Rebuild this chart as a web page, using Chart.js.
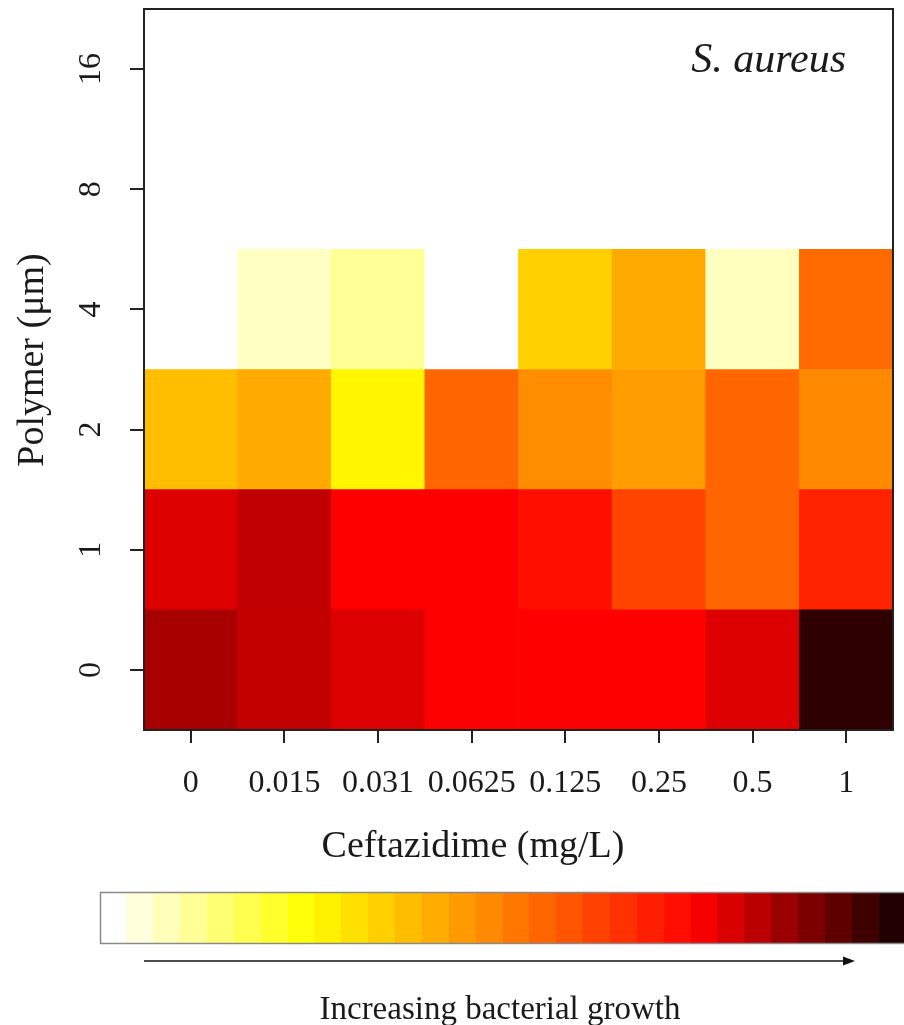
<!DOCTYPE html>
<html>
<head>
<meta charset="utf-8">
<script src="https://cdn.jsdelivr.net/npm/chart.js@4.4.1/dist/chart.umd.min.js"></script>
<style>
  html, body { margin: 0; padding: 0; background: #ffffff; }
  canvas { display: block; }
</style>
</head>
<body>
<canvas id="c" width="904" height="1025"></canvas>
<script>
// ---- data ----
const concentrations = ['0', '0.015', '0.031', '0.0625', '0.125', '0.25', '0.5', '1'];
const polymerLevels = ['0', '1', '2', '4', '8', '16'];
// growth index (0 = no growth, 100 = maximum growth)
const growthP0  = [84.8, 81.8, 78.9, 75.0, 75.0, 75.0, 78.9, 98.4];
const growthP1  = [78.9, 82.1, 75.0, 75.0, 72.0, 61.7, 55.0, 68.3];
const growthP2  = [37.7, 41.7, 26.8, 55.0, 47.5, 44.4, 55.0, 48.3];
const growthP4  = [0.0, 5.8, 10.3, 0.0, 34.2, 41.7, 6.4, 54.2];
const growthP8  = [0, 0, 0, 0, 0, 0, 0, 0];
const growthP16 = [0, 0, 0, 0, 0, 0, 0, 0];
const growthRows = [growthP0, growthP1, growthP2, growthP4, growthP8, growthP16];
const colorbarSteps = 30;

// ---- colour scale (white -> yellow -> orange -> red -> near black) ----
const heatStops = [
  [0.00, [255, 255, 255]],
  [0.25, [255, 255, 0]],
  [0.50, [255, 128, 0]],
  [0.75, [255, 0, 0]],
  [1.00, [32, 0, 0]]
];
function heat(t) {
  t = Math.max(0, Math.min(1, t));
  for (let i = 1; i < heatStops.length; i++) {
    const [t1, c1] = heatStops[i];
    const [t0, c0] = heatStops[i - 1];
    if (t <= t1) {
      const f = (t - t0) / (t1 - t0);
      const c = c0.map((v, k) => Math.round(v + (c1[k] - v) * f));
      return `rgb(${c[0]},${c[1]},${c[2]})`;
    }
  }
  return 'rgb(32,0,0)';
}

const FONT = '"Liberation Serif", "Times New Roman", Times, serif';
const INK = '#1a1a1a';

const datasets = growthRows.map((row, r) => ({
  label: polymerLevels[r],
  data: row.map(() => [r, r + 1]),
  backgroundColor: row.map(v => heat(v / 100)),
  borderWidth: 0,
  barPercentage: 1.0,
  categoryPercentage: 1.0,
  grouped: false
}));

const decorPlugin = {
  id: 'decor',
  afterDraw(chart) {
    const ctx = chart.ctx;
    const a = chart.chartArea;
    const ys = chart.scales.y;
    ctx.save();
    // frame
    ctx.strokeStyle = '#222';
    ctx.lineWidth = 2;
    ctx.strokeRect(a.left, a.top, a.right - a.left, a.bottom - a.top);

    // rotated y tick labels
    ctx.fillStyle = INK;
    ctx.font = `32px ${FONT}`;
    ctx.textAlign = 'center';
    ctx.textBaseline = 'alphabetic';
    polymerLevels.forEach((lab, i) => {
      const y = ys.getPixelForValue(i + 0.5);
      ctx.save();
      ctx.translate(100, y);
      ctx.rotate(-Math.PI / 2);
      ctx.fillText(lab, 0, 0);
      ctx.restore();
    });

    // axis titles
    ctx.font = `38px ${FONT}`;
    ctx.save();
    ctx.translate(43, 360);
    ctx.rotate(-Math.PI / 2);
    ctx.fillText('Polymer (μm)', 0, 0);
    ctx.restore();
    ctx.fillText('Ceftazidime (mg/L)', 473, 857);

    // species label
    ctx.font = `italic 42px ${FONT}`;
    ctx.textAlign = 'right';
    ctx.fillText('S. aureus', 846, 72);

    // colour bar
    const bx = 100, by = 892, bw = 806, bh = 51;
    const step = bw / colorbarSteps;
    for (let k = 0; k < colorbarSteps; k++) {
      ctx.fillStyle = heat(k / (colorbarSteps - 1));
      ctx.fillRect(Math.floor(bx + k * step), by, Math.ceil(step) + 1, bh);
    }
    ctx.strokeStyle = '#8a8a8a';
    ctx.lineWidth = 1.5;
    ctx.strokeRect(bx + 0.5, by + 0.5, bw + 10, bh);

    // arrow
    ctx.strokeStyle = '#111';
    ctx.fillStyle = '#111';
    ctx.lineWidth = 1.5;
    ctx.beginPath();
    ctx.moveTo(144, 961);
    ctx.lineTo(846, 961);
    ctx.stroke();
    ctx.beginPath();
    ctx.moveTo(855, 961);
    ctx.lineTo(843, 956.5);
    ctx.lineTo(843, 965.5);
    ctx.closePath();
    ctx.fill();

    // caption
    ctx.fillStyle = INK;
    ctx.font = `33px ${FONT}`;
    ctx.textAlign = 'center';
    ctx.fillText('Increasing bacterial growth', 500, 1019);
    ctx.restore();
  }
};

new Chart(document.getElementById('c'), {
  type: 'bar',
  data: { labels: concentrations, datasets },
  options: {
    responsive: false,
    devicePixelRatio: 1,
    animation: false,
    layout: { padding: { left: 0, top: 9, right: 11, bottom: 162 } },
    plugins: { legend: { display: false }, tooltip: { enabled: false } },
    scales: {
      x: {
        type: 'category',
        offset: true,
        grid: { display: true, drawOnChartArea: false, drawTicks: true, tickLength: 13, color: '#222', lineWidth: 2, offset: false },
        border: { display: false },
        ticks: { color: INK, font: { family: FONT, size: 32 }, padding: 21, maxRotation: 0, minRotation: 0, autoSkip: false },
        title: { display: false },
        afterFit(s) { s.height = 133; }
      },
      y: {
        type: 'linear',
        min: 0,
        max: 6,
        afterBuildTicks(s) { s.ticks = polymerLevels.map((_, i) => ({ value: i + 0.5 })); },
        grid: { display: true, drawOnChartArea: false, drawTicks: true, tickLength: 14, color: '#222', lineWidth: 2 },
        border: { display: false },
        ticks: { display: false },
        title: { display: false },
        afterFit(s) { s.width = 144; }
      }
    }
  },
  plugins: [decorPlugin]
});
</script>
</body>
</html>
